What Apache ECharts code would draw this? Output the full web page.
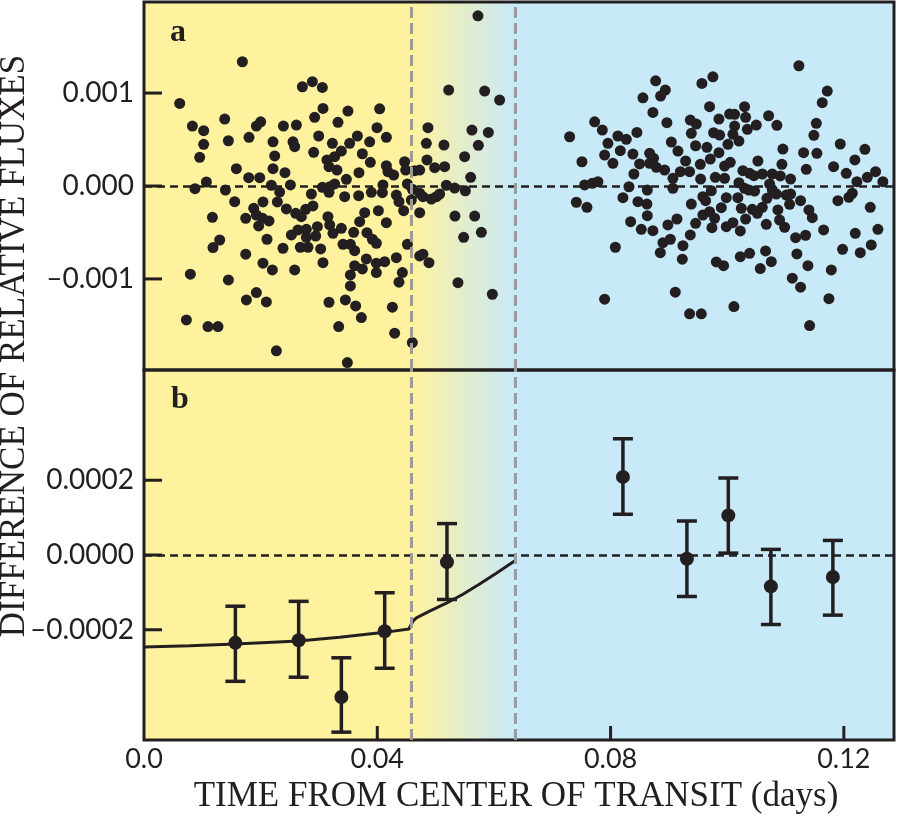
<!DOCTYPE html>
<html>
<head>
<meta charset="utf-8">
<title>Difference of relative fluxes</title>
<script src="https://cdn.jsdelivr.net/npm/echarts@6.0.0/dist/echarts.min.js"></script>
<style>
  html, body { margin: 0; padding: 0; background: #fff; }
  #chart { width: 900px; height: 817px; }
</style>
</head>
<body>
<div id="chart"></div>
<script>
// panel a: single measurements [time from center of transit (days), flux difference]
const pointsA = [
  [0.01687, 0.001337], [0.00612, 0.000889], [0.00830, 0.000645], [0.01023, 0.000595], [0.01384, 0.000720],
  [0.01927, 0.000645], [0.02001, 0.000691], [0.02390, 0.000645], [0.01023, 0.000448], [0.01447, 0.000487],
  [0.01800, 0.000524], [0.02212, 0.000476], [0.00955, 0.000309], [0.02241, 0.000323], [0.01584, 0.000186],
  [0.02212, 0.000186], [0.01795, 0.000089], [0.01984, 0.000089], [0.02417, 0.000143], [0.01070, 0.000043],
  [0.00874, -0.000029], [0.01396, -0.000043], [0.02184, 0.000008], [0.02326, -0.000065], [0.01555, -0.000169],
  [0.02040, -0.000172], [0.02287, -0.000172], [0.01881, -0.000240], [0.01173, -0.000337], [0.01744, -0.000347],
  [0.01927, -0.000312], [0.02030, -0.000347], [0.02143, -0.000376], [0.01966, -0.000430], [0.02441, -0.000247],
  [0.01298, -0.000581], [0.01183, -0.000663], [0.02109, -0.000573], [0.02383, -0.000670], [0.01744, -0.000734],
  [0.02040, -0.000831], [0.02201, -0.000903], [0.00795, -0.000949], [0.01447, -0.001011], [0.01927, -0.001147],
  [0.01756, -0.001226], [0.02098, -0.001247], [0.00727, -0.001441], [0.01097, -0.001513], [0.01269, -0.001513],
  [0.02270, -0.001774],
  [0.02716, 0.001068], [0.02887, 0.001122], [0.03058, 0.001061], [0.03069, 0.000835], [0.03497, 0.000806],
  [0.04041, 0.000831], [0.02926, 0.000739], [0.03326, 0.000685], [0.02613, 0.000656], [0.02554, 0.000476],
  [0.02584, 0.000423], [0.02995, 0.000538], [0.03230, 0.000459], [0.03659, 0.000538], [0.03526, 0.000459],
  [0.03869, 0.000476], [0.04156, 0.000524], [0.03995, 0.000627], [0.02909, 0.000362], [0.03384, 0.000376],
  [0.03269, 0.000315], [0.03137, 0.000280], [0.03172, 0.000208], [0.03309, 0.000172], [0.03744, 0.000347],
  [0.03881, 0.000255], [0.03686, 0.000143], [0.03470, 0.000072], [0.04156, 0.000218], [0.04183, 0.000154],
  [0.04281, 0.000118], [0.04469, 0.000261], [0.04487, 0.000172], [0.04727, 0.000172], [0.04869, 0.000627],
  [0.04841, 0.000459], [0.04852, 0.000280], [0.04984, 0.000197], [0.02510, 0.000011], [0.03058, -0.000014],
  [0.03184, -0.000008], [0.03269, 0.000022], [0.02870, -0.000086], [0.03172, -0.000068], [0.03441, -0.000115],
  [0.03681, -0.000104], [0.03898, -0.000068], [0.04087, -0.000072], [0.04097, 0.000011], [0.04327, -0.000097],
  [0.04372, -0.000169], [0.04452, -0.000266], [0.04516, 0.000022], [0.04601, -0.000035], [0.04584, -0.000151],
  [0.04727, -0.000078], [0.04783, -0.000115], [0.04927, -0.000140], [0.05013, -0.000115], [0.02601, -0.000294],
  [0.02698, -0.000330], [0.02772, -0.000251], [0.02897, -0.000215], [0.03154, -0.000330], [0.03784, -0.000287],
  [0.03698, -0.000384], [0.04019, -0.000266], [0.04156, -0.000395], [0.04727, -0.000287], [0.02640, -0.000473],
  [0.02784, -0.000466], [0.02527, -0.000527], [0.02784, -0.000552], [0.02944, -0.000538], [0.02973, -0.000438],
  [0.03184, -0.000419], [0.03240, -0.000509], [0.03384, -0.000455], [0.03595, -0.000498], [0.03823, -0.000502],
  [0.03916, -0.000573], [0.03984, -0.000616], [0.02681, -0.000659], [0.02812, -0.000659], [0.03029, -0.000677],
  [0.03412, -0.000627], [0.03539, -0.000627], [0.03612, -0.000696], [0.04516, -0.000627], [0.04727, -0.000753],
  [0.04783, -0.000734], [0.04886, -0.000825], [0.03069, -0.000825], [0.03813, -0.000785], [0.03984, -0.000831],
  [0.04127, -0.000814], [0.03984, -0.000932], [0.04327, -0.000771], [0.03612, -0.000857], [0.03744, -0.000892],
  [0.03539, -0.000957], [0.03539, -0.001075], [0.04430, -0.000932], [0.04372, -0.001035], [0.02584, -0.000903],
  [0.03172, -0.001251], [0.03453, -0.001226], [0.03629, -0.001290], [0.03727, -0.001416], [0.04259, -0.001304],
  [0.03338, -0.001513], [0.04298, -0.001584], [0.03487, -0.001900], [0.04601, -0.001685],
  [0.05726, 0.001831], [0.05224, 0.001032], [0.05841, 0.001022], [0.06098, 0.000925], [0.05623, 0.000602],
  [0.05904, 0.000577], [0.05143, 0.000441], [0.05733, 0.000438], [0.05498, 0.000315], [0.04641, 0.000165],
  [0.05155, 0.000208], [0.05601, 0.000094], [0.05184, 0.000008], [0.05327, -0.000022], [0.05510, -0.000051],
  [0.05069, -0.000086], [0.05332, -0.000323], [0.05670, -0.000323], [0.05481, -0.000552], [0.05784, -0.000498],
  [0.05383, -0.001040], [0.05973, -0.001165],
  [0.08773, 0.001132], [0.09566, 0.001104], [0.09755, 0.001175], [0.08939, 0.001032], [0.08858, 0.000968],
  [0.08555, 0.000949], [0.08726, 0.000792], [0.09698, 0.000853], [0.07727, 0.000691], [0.07859, 0.000602],
  [0.08966, 0.000681], [0.09367, 0.000710], [0.09470, 0.000667], [0.09858, 0.000720], [0.07298, 0.000530],
  [0.08126, 0.000538], [0.08270, 0.000502], [0.08452, 0.000577], [0.07955, 0.000459], [0.09385, 0.000567],
  [0.09767, 0.000573], [0.09870, 0.000548], [0.09042, 0.000473], [0.08167, 0.000380], [0.07898, 0.000333],
  [0.08040, 0.000244], [0.08383, 0.000344], [0.09155, 0.000376], [0.09458, 0.000433], [0.09652, 0.000416],
  [0.09858, 0.000358], [0.07509, 0.000261], [0.08670, 0.000352], [0.08738, 0.000298], [0.08670, 0.000244],
  [0.08785, 0.000201], [0.08927, 0.000172], [0.08498, 0.000237], [0.09287, 0.000269], [0.09539, 0.000233],
  [0.09710, 0.000290], [0.09955, 0.000215], [0.08400, 0.000129], [0.09069, 0.000083], [0.09196, 0.000154],
  [0.09355, 0.000154], [0.09544, 0.000075], [0.09796, 0.000094], [0.09955, 0.000083], [0.07555, 0.000011],
  [0.07687, 0.000029], [0.07783, 0.000046], [0.08315, -0.000008], [0.08630, -0.000043], [0.09069, -0.000025],
  [0.09727, -0.000051], [0.07413, -0.000175], [0.07595, -0.000229], [0.08212, -0.000126], [0.08469, -0.000169],
  [0.08623, -0.000194], [0.09583, -0.000115], [0.09630, -0.000158], [0.09985, -0.000126], [0.09385, -0.000194],
  [0.09899, -0.000233], [0.08630, -0.000319], [0.08344, -0.000384], [0.08527, -0.000466], [0.08726, -0.000481],
  [0.08983, -0.000419], [0.09138, -0.000355], [0.09458, -0.000401], [0.09583, -0.000312], [0.09698, -0.000276],
  [0.09784, -0.000347], [0.09738, -0.000448], [0.09985, -0.000438], [0.09367, -0.000527], [0.08898, -0.000610],
  [0.09025, -0.000573], [0.08853, -0.000717], [0.09241, -0.000642], [0.08082, -0.000659], [0.09230, -0.000788],
  [0.09813, -0.000817], [0.09938, -0.000857], [0.07898, -0.001218], [0.09110, -0.001143], [0.09355, -0.001376],
  [0.09556, -0.001376],
  [0.11229, 0.001294], [0.11716, 0.001022], [0.11630, 0.000896], [0.10298, 0.000853], [0.10041, 0.000774],
  [0.10127, 0.000771], [0.10316, 0.000739], [0.10710, 0.000756], [0.10127, 0.000645], [0.10499, 0.000656],
  [0.10345, 0.000610], [0.10852, 0.000653], [0.11528, 0.000674], [0.11486, 0.000545], [0.10098, 0.000556],
  [0.10201, 0.000484], [0.10012, 0.000448], [0.10955, 0.000398], [0.11310, 0.000358], [0.11538, 0.000352],
  [0.11939, 0.000452], [0.12361, 0.000395], [0.12189, 0.000280], [0.10526, 0.000269], [0.10053, 0.000255],
  [0.10938, 0.000233], [0.11356, 0.000180], [0.11824, 0.000208], [0.12042, 0.000137], [0.12544, 0.000154],
  [0.12402, 0.000094], [0.12669, 0.000046], [0.12224, 0.000046], [0.10269, 0.000165], [0.10384, 0.000137],
  [0.10458, 0.000111], [0.10602, 0.000129], [0.10773, 0.000129], [0.10910, 0.000108], [0.11087, 0.000075],
  [0.10201, 0.000035], [0.10298, -0.000025], [0.10372, -0.000043], [0.10470, -0.000054], [0.10727, 0.000022],
  [0.10773, -0.000043], [0.10842, -0.000086], [0.11013, -0.000097], [0.11087, -0.000086], [0.10681, -0.000132],
  [0.10183, -0.000126], [0.10242, -0.000240], [0.10430, -0.000251], [0.10516, -0.000294], [0.10602, -0.000229],
  [0.11070, -0.000197], [0.11258, -0.000158], [0.11898, -0.000158], [0.12086, -0.000122], [0.12145, -0.000078],
  [0.12453, -0.000229], [0.10869, -0.000258], [0.11401, -0.000258], [0.11459, -0.000341], [0.10316, -0.000355],
  [0.10098, -0.000395], [0.10670, -0.000412], [0.10898, -0.000366], [0.10984, -0.000444], [0.10225, -0.000484],
  [0.11173, -0.000556], [0.11344, -0.000530], [0.11653, -0.000473], [0.12196, -0.000509], [0.12584, -0.000466],
  [0.11978, -0.000681], [0.12470, -0.000634], [0.12282, -0.000717], [0.10225, -0.000760], [0.10384, -0.000724],
  [0.10658, -0.000699], [0.10756, -0.000814], [0.10567, -0.000889], [0.11195, -0.000731], [0.11384, -0.000857],
  [0.11785, -0.000903], [0.11116, -0.000992], [0.11258, -0.001089], [0.11744, -0.001212], [0.10115, -0.001298],
  [0.11413, -0.001502]
];

// panel b: binned means and their error bars
const binTime = [0.01567, 0.02652, 0.03384, 0.04127, 0.05195, 0.08212, 0.09309, 0.10019, 0.10749, 0.11812];
const binFlux = [-0.000235, -0.000228, -0.000380, -0.000204, -0.000019, 0.000209, -0.000010, 0.000106, -0.000084, -0.000059];
const binLow = [-0.000338, -0.000327, -0.000474, -0.000303, -0.000119, 0.000109, -0.000111, 0.000005, -0.000186, -0.000161];
const binHigh = [-0.000137, -0.000124, -0.000275, -0.000101, 0.000084, 0.000311, 0.000091, 0.000206, 0.000015, 0.000039];

// model curve (panel b)
const modelTime = [0, 0.00784, 0.01567, 0.02652, 0.03355, 0.04127, 0.04543, 0.04581, 0.04615, 0.04670,
  0.04898, 0.05184, 0.05469, 0.05755, 0.06041, 0.06270, 0.06355];
const modelFlux = [-0.000246, -0.000243, -0.000238, -0.000230, -0.000220, -0.000207, -0.000198, -0.000186, -0.000176, -0.000168,
  -0.000150, -0.000129, -0.000105, -0.0000776, -0.000049, -0.0000249, -0.0000161];

// ingress: start and end (days)
const ingress = [0.0458, 0.0637];

const xTicks = [0, 0.04, 0.08, 0.12];
const yTicksA = [-0.001, 0, 0.001];
const yTicksB = [-0.0002, 0, 0.0002];

const X_MAX = 0.1286;
const A_LIM = 0.00198;
const B_LIM = 0.000495;
const INK = '#231f20';
const YELLOW = '#fff29e';
const BLUE = '#c8e9f8';
const GREY = '#9b9b9b';

const chart = echarts.init(document.getElementById('chart'));

function xAxisFor(idx, show) {
  return {
    type: 'value', gridIndex: idx, min: 0, max: X_MAX, z: 4,
    axisLine: { show: false, onZero: false },
    splitLine: { show: false },
    axisTick: { show: false },
    axisLabel: {
      show: show, customValues: xTicks, margin: 6, color: INK, fontFamily: 'Lato', fontSize: 27,
      formatter: v => v === 0 ? '0.0' : v.toFixed(2)
    }
  };
}

function yAxisFor(idx, lim, ticks, digits) {
  return {
    type: 'value', gridIndex: idx, min: -lim, max: lim, z: 4,
    axisLine: { show: false, onZero: false },
    splitLine: { show: false },
    axisTick: { show: false },
    axisLabel: {
      customValues: ticks, margin: 10, color: INK, fontFamily: 'Lato', fontSize: 28,
      formatter: v => (v < 0 ? '\u2013' : '') + Math.abs(v).toFixed(digits)
    }
  };
}

// all inward ticks of one panel, drawn from the x tick and the y tick lists
// through the panel's own scales: the x ticks stand on the bottom edge,
// the y ticks lean on the left edge
function tickSeries(idx, xs, ys, yLim) {
  const rows = xs.map(t => [t, -yLim, 0]).concat(ys.map(v => [0, v, 1]));
  return {
    type: 'custom', xAxisIndex: idx, yAxisIndex: idx, z: 20, clip: false, silent: true,
    data: rows,
    renderItem: (params, api) => {
      const row = rows[params.dataIndex];
      const p = api.coord([row[0], row[1]]);
      const left = row[2] === 1;
      const dx = left ? 18 : 0;
      const dy = left ? 0 : -14;
      return {
        type: 'rect',
        shape: {
          x: left ? p[0] : p[0] - 1.5,
          y: left ? p[1] - 1.5 : p[1] + dy,
          width: left ? dx : 3,
          height: left ? 3 : -dy
        },
        style: { fill: INK }
      };
    }
  };
}

// yellow / gradient / blue backgrounds
function backdrop(idx) {
  return {
    type: 'line', xAxisIndex: idx, yAxisIndex: idx, data: [[0, 0]], showSymbol: false,
    lineStyle: { opacity: 0 }, z: 1, silent: true,
    markArea: {
      silent: true,
      data: [
        [{ xAxis: 0, itemStyle: { color: YELLOW } }, { xAxis: ingress[0] }],
        [{ xAxis: ingress[0], itemStyle: { color: new echarts.graphic.LinearGradient(0, 0, 1, 0, [
          { offset: 0, color: YELLOW }, { offset: 1, color: BLUE }]) } }, { xAxis: ingress[1] }],
        [{ xAxis: ingress[1], itemStyle: { color: BLUE } }, { xAxis: X_MAX }]
      ]
    }
  };
}

// dashed guides: ingress edges and zero level
function guides(idx) {
  return {
    type: 'line', xAxisIndex: idx, yAxisIndex: idx, data: [[0, 0]], showSymbol: false,
    lineStyle: { opacity: 0 }, z: 2.5, silent: true,
    markLine: {
      silent: true, symbol: 'none', precision: 5, label: { show: false },
      data: [
        { yAxis: 0, lineStyle: { color: INK, width: 2.5, type: [8, 5] } },
        { xAxis: ingress[0], lineStyle: { color: GREY, width: 3, type: [11, 5] } },
        { xAxis: ingress[1], lineStyle: { color: GREY, width: 3, type: [11, 5] } }
      ]
    }
  };
}

function renderErrorBar(params, api) {
  const t = api.value(0);
  const lo = api.coord([t, api.value(2)]);
  const hi = api.coord([t, api.value(3)]);
  const cap = 10;
  const style = { stroke: INK, lineWidth: 3.5 };
  return {
    type: 'group',
    children: [
      { type: 'line', shape: { x1: lo[0], y1: lo[1], x2: hi[0], y2: hi[1] }, style: style },
      { type: 'line', shape: { x1: lo[0] - cap, y1: lo[1], x2: lo[0] + cap, y2: lo[1] }, style: style },
      { type: 'line', shape: { x1: hi[0] - cap, y1: hi[1], x2: hi[0] + cap, y2: hi[1] }, style: style }
    ]
  };
}

const gridBase = {
  left: 144, width: 750, show: true, z: 3, backgroundColor: 'transparent',
  borderColor: INK, borderWidth: 3, containLabel: false, outerBoundsMode: 'none'
};

const option = {
  animation: false,
  backgroundColor: '#ffffff',
  grid: [
    Object.assign({}, gridBase, { top: 2, height: 368 }),
    Object.assign({}, gridBase, { top: 370, height: 370 })
  ],
  xAxis: [xAxisFor(0, false), xAxisFor(1, true)],
  yAxis: [yAxisFor(0, A_LIM, yTicksA, 3), yAxisFor(1, B_LIM, yTicksB, 4)],
  graphic: [
    { type: 'text', x: 170, y: 33, z: 10, style: { text: 'a', font: 'bold 32px "Liberation Serif"', fill: INK, verticalAlign: 'middle' } },
    { type: 'text', x: 171, y: 400, z: 10, style: { text: 'b', font: 'bold 32px "Liberation Serif"', fill: INK, verticalAlign: 'middle' } },
    {
      type: 'text', x: 15, y: 346, rotation: Math.PI / 2, z: 10,
      style: { text: 'DIFFERENCE OF RELATIVE FLUXES', font: '35px "Liberation Serif"', fill: INK, align: 'center', verticalAlign: 'middle' }
    },
    {
      type: 'text', x: 516, y: 797, z: 10,
      style: { text: 'TIME FROM CENTER OF TRANSIT (days)', font: '35px "Liberation Serif"', fill: INK, align: 'center', verticalAlign: 'middle' }
    }
  ],
  series: [
    backdrop(0),
    backdrop(1),
    {
      type: 'scatter', xAxisIndex: 0, yAxisIndex: 0, data: pointsA, symbolSize: 11, z: 2,
      itemStyle: { color: INK, opacity: 1 }
    },
    {
      type: 'line', xAxisIndex: 1, yAxisIndex: 1, showSymbol: false, z: 2,
      data: modelTime.map((t, i) => [t, modelFlux[i]]),
      lineStyle: { color: INK, width: 3 }
    },
    {
      type: 'custom', xAxisIndex: 1, yAxisIndex: 1, z: 2,
      data: binTime.map((t, i) => [t, binFlux[i], binLow[i], binHigh[i]]),
      renderItem: renderErrorBar
    },
    {
      type: 'scatter', xAxisIndex: 1, yAxisIndex: 1, symbolSize: 14, z: 2.2,
      data: binTime.map((t, i) => [t, binFlux[i]]),
      itemStyle: { color: INK, opacity: 1 }
    },
    guides(0),
    guides(1),
    tickSeries(0, [], yTicksA, A_LIM),
    tickSeries(1, xTicks.slice(1), yTicksB, B_LIM)
  ]
};

chart.setOption(option);
</script>
</body>
</html>
